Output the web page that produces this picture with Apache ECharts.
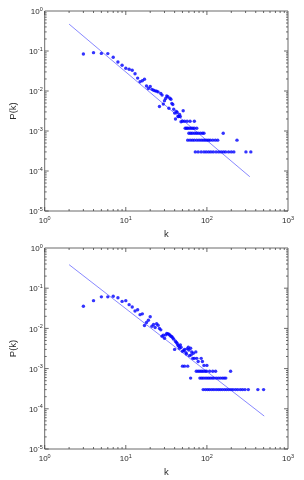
<!DOCTYPE html>
<html><head><meta charset="utf-8">
<script src="https://cdn.jsdelivr.net/npm/echarts@6/dist/echarts.min.js"></script>
<style>html,body{margin:0;padding:0;background:#fff}#c{width:304px;height:480px}</style>
</head><body><div id="c"></div>
<script>
// ---- data ----
const kTop = [3,4,5,6,7,8,9,10,11,12,13,14,15,16,17,18,19,20,21,22,23,24,25,26,27,28,29,30,31,32,33,34,35,36,37,38,39,40,41,42,43,44,45,46,47,48,51,
  50,53,57,62,70,
  54,56,58,61,64,67,70,75,
  60,63,66,70,74,78,83,88,92,159,
  58,62,66,70,75,80,85,90,95,100,105,110,118,127,136,235,
  72,78,85,92,98,105,112,120,130,140,150,160,170,185,200,215,303,348];
const pTop = [0.084,0.091,0.087,0.086,0.07,0.053,0.044,0.037,0.035,0.033,0.027,0.021,0.017,0.018,0.0196,0.0133,0.0115,0.013,0.011,0.0104,0.0101,0.0099,0.0095,0.0041,0.0087,0.0079,0.0047,0.0057,0.0065,0.0075,0.0072,0.0037,0.0066,0.0062,0.0049,0.0046,0.0035,0.0028,0.002,0.0031,0.0029,0.0023,0.0023,0.0026,0.0023,0.0017,0.0032,
  0.00175,0.00175,0.00175,0.00175,0.00175,
  0.00117,0.00117,0.00117,0.00117,0.00117,0.00117,0.00117,0.00117,
  0.00088,0.00088,0.00088,0.00088,0.00088,0.00088,0.00088,0.00088,0.00088,0.00088,
  0.00059,0.00059,0.00059,0.00059,0.00059,0.00059,0.00059,0.00059,0.00059,0.00059,0.00059,0.00059,0.00059,0.00059,0.00059,0.00059,
  0.0003,0.0003,0.0003,0.0003,0.0003,0.0003,0.0003,0.0003,0.0003,0.0003,0.0003,0.0003,0.0003,0.0003,0.0003,0.0003,0.0003,0.0003];
const fitKTop = [2, 338];
const fitPTop = [0.47, 7.2e-5];

const kBot = [3,4,5,6,7,8,9,10,11,12,13,14,15,16,17,18,19,20,21,22,23,24,25,26,27,28,29,30,31,32,33,34,35,36,37,38,39,40,41,42,43,44,45,47,48,50,53,56,59,61,63,65,67,70,73,
  46,52,55,57,60,64,68,75,78,85,88,92,100,
  50,53,58,
  74,78,82,86,90,95,99,108,118,128,196,
  63,82,86,90,95,100,105,110,116,122,130,138,146,155,163,171,
  90,96,102,108,115,122,130,138,146,155,165,175,186,198,210,225,240,258,275,295,324,425,500];
const pBot = [0.0355,0.049,0.061,0.061,0.063,0.058,0.047,0.049,0.039,0.034,0.027,0.029,0.022,0.023,0.0118,0.014,0.016,0.0195,0.0113,0.0125,0.0105,0.013,0.012,0.010,0.0092,0.0064,0.0068,0.0057,0.0069,0.0075,0.0073,0.0072,0.0068,0.0064,0.0062,0.0058,0.0054,0.003,0.0048,0.0045,0.0042,0.0038,0.0036,0.0039,0.0034,0.0027,0.003,0.0023,0.0034,0.0021,0.0032,0.0026,0.0018,0.0018,0.0026,
  0.0032,0.0028,0.0025,0.0031,0.0029,0.0022,0.0024,0.0018,0.0015,0.0018,0.0015,0.0012,0.0012,
  0.00115,0.00115,0.00115,
  0.00086,0.00086,0.00086,0.00086,0.00086,0.00086,0.00086,0.00086,0.00086,0.00086,0.00086,
  0.00058,0.00058,0.00058,0.00058,0.00058,0.00058,0.00058,0.00058,0.00058,0.00058,0.00058,0.00058,0.00058,0.00058,0.00058,0.00058,
  0.0003,0.0003,0.0003,0.0003,0.0003,0.0003,0.0003,0.0003,0.0003,0.0003,0.0003,0.0003,0.0003,0.0003,0.0003,0.0003,0.0003,0.0003,0.0003,0.0003,0.0003,0.0003,0.0003];
const fitKBot = [2, 509];
const fitPBot = [0.385, 6.6e-5];

const xRange = [1, 1000];
const yRange = [1e-5, 1];
const xName = 'k';
const yName = 'P(k)';

// ---- chart ----
const FONT = 'Liberation Sans, Arial, sans-serif';
const TXT = '#2a2a2a';
function zip(a, b) { return a.map((v, i) => [v, b[i]]); }

function tickData() {
  const d = [];
  for (let e = Math.log10(xRange[0]); e < Math.log10(xRange[1]); e++) {
    for (let m = 1; m <= 9; m++) d.push([m * Math.pow(10, e), yRange[0], 0, m === 1 ? 4 : 2]);
  }
  for (let e = Math.log10(yRange[0]); e < Math.log10(yRange[1]); e++) {
    for (let m = 1; m <= 9; m++) d.push([xRange[0], m * Math.pow(10, e), 1, m === 1 ? 4 : 2]);
  }
  return d;
}
function renderTick(params, api) {
  const a = api.value(0), b = api.value(1), t = api.value(2), len = api.value(3);
  const st = { stroke: '#444', lineWidth: 0.8 };
  if (t === 0) {
    const p1 = api.coord([a, yRange[0]]), p2 = api.coord([a, yRange[1]]);
    return { type: 'group', children: [
      { type: 'line', shape: { x1: p1[0], y1: p1[1], x2: p1[0], y2: p1[1] - len }, style: st },
      { type: 'line', shape: { x1: p2[0], y1: p2[1], x2: p2[0], y2: p2[1] + len }, style: st }
    ]};
  } else {
    const p1 = api.coord([xRange[0], b]), p2 = api.coord([xRange[1], b]);
    return { type: 'group', children: [
      { type: 'line', shape: { x1: p1[0], y1: p1[1], x2: p1[0] + len, y2: p1[1] }, style: st },
      { type: 'line', shape: { x1: p2[0], y1: p2[1], x2: p2[0] - len, y2: p2[1] }, style: st }
    ]};
  }
}
const labelCfg = {
  color: TXT,
  formatter: v => '{b|10}{e|' + Math.round(Math.log10(v)) + '}',
  rich: {
    b: { fontSize: 8, fontFamily: FONT, color: TXT, lineHeight: 10, verticalAlign: 'bottom' },
    e: { fontSize: 5.5, fontFamily: FONT, color: TXT, lineHeight: 10, verticalAlign: 'top' }
  }
};
function xAxisCfg(gi) {
  return { type: 'log', logBase: 10, gridIndex: gi, min: xRange[0], max: xRange[1],
    name: xName, nameLocation: 'middle', nameGap: 18,
    nameTextStyle: { fontSize: 9.5, fontFamily: FONT, color: TXT },
    axisLine: { show: false }, axisTick: { show: false }, splitLine: { show: false },
    axisLabel: Object.assign({ margin: 4 }, labelCfg) };
}
function yAxisCfg(gi) {
  return { type: 'log', logBase: 10, gridIndex: gi, min: yRange[0], max: yRange[1],
    name: yName, nameLocation: 'middle', nameGap: 21,
    nameTextStyle: { fontSize: 9.5, fontFamily: FONT, color: TXT },
    axisLine: { show: false }, axisTick: { show: false }, splitLine: { show: false },
    axisLabel: Object.assign({ margin: 2 }, labelCfg) };
}
function panelSeries(gi, k, p, fk, fp) {
  return [
    { type: 'custom', xAxisIndex: gi, yAxisIndex: gi, renderItem: renderTick, data: tickData(),
      encode: { x: 0, y: 1 }, clip: false, silent: true, z: 1 },
    { type: 'line', xAxisIndex: gi, yAxisIndex: gi, data: zip(fk, fp), showSymbol: false,
      lineStyle: { color: '#6a6aff', width: 0.8 }, z: 2, silent: true },
    { type: 'scatter', xAxisIndex: gi, yAxisIndex: gi, data: zip(k, p), symbol: 'circle', symbolSize: 3.4,
      itemStyle: { color: '#0000ff' }, z: 3, silent: true }
  ];
}
const chart = echarts.init(document.getElementById('c'), null, { renderer: 'canvas' });
chart.setOption({
  animation: false,
  backgroundColor: '#fff',
  grid: [
    { left: 35, top: 11, width: 253, height: 200, show: true, borderColor: '#444', borderWidth: 0.8, backgroundColor: '#fff' },
    { left: 35, top: 248, width: 253, height: 201, show: true, borderColor: '#444', borderWidth: 0.8, backgroundColor: '#fff' }
  ],
  xAxis: [xAxisCfg(0), xAxisCfg(1)],
  yAxis: [yAxisCfg(0), yAxisCfg(1)],
  series: [].concat(panelSeries(0, kTop, pTop, fitKTop, fitPTop), panelSeries(1, kBot, pBot, fitKBot, fitPBot))
});
</script>
</body></html>
